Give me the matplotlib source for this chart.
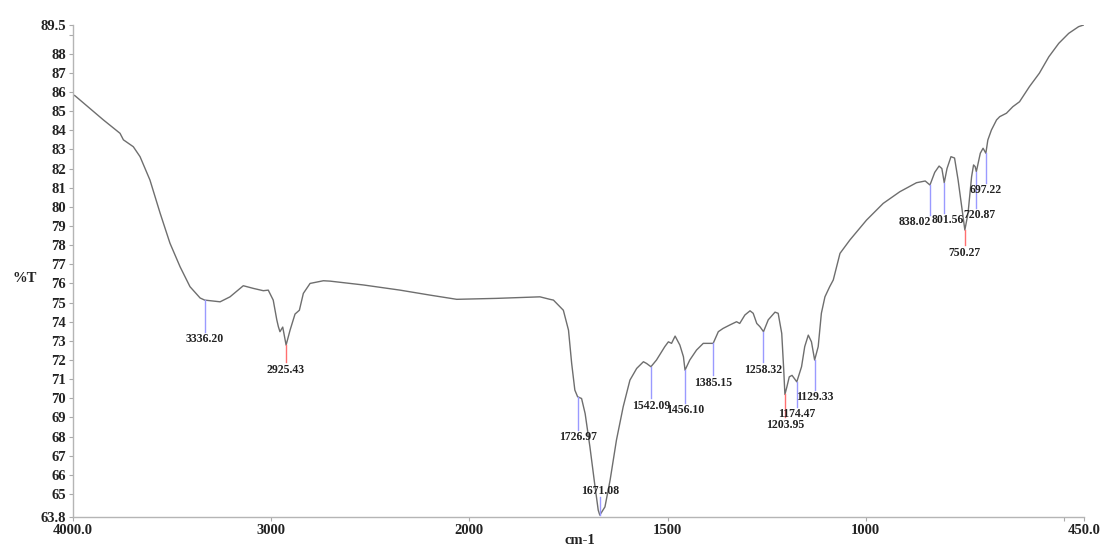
import numpy as np
import matplotlib
matplotlib.use("Agg")
import matplotlib.pyplot as plt

# ---- spectrum data (wavenumber cm-1, %T) ----
wavenumber = [4000, 3990, 3847, 3763, 3746, 3696, 3662, 3612, 3561, 3511, 3460, 3410, 3359,
              3336, 3258, 3208, 3141, 3090, 3040, 3015, 2990, 2972, 2964, 2956, 2942, 2925,
              2905, 2880, 2858, 2838, 2804, 2737, 2703, 2602, 2535, 2350, 2199, 2064, 1931,
              1822, 1797, 1788, 1763, 1750, 1742, 1734, 1727, 1717, 1708, 1696, 1683, 1675,
              1671, 1658, 1645, 1629, 1612, 1595, 1578, 1561, 1553, 1542, 1528, 1507, 1498,
              1490, 1481, 1469, 1460, 1456, 1444, 1427, 1410, 1385, 1372, 1360, 1343, 1326,
              1318, 1305, 1292, 1284, 1275, 1267, 1258, 1246, 1229, 1221, 1212, 1207, 1204,
              1199, 1193, 1186, 1174, 1162, 1154, 1145, 1137, 1129, 1120, 1112, 1103, 1091,
              1082, 1065, 1040, 998, 956, 914, 872, 850, 838, 826, 815, 808, 802, 795, 785,
              776, 767, 758, 750, 742, 733, 728, 724, 721, 711, 704, 697, 692, 683, 670, 662,
              645, 629, 612, 587, 562, 538, 513, 488, 463, 450]
transmittance = [85.85, 85.8, 84.54, 83.84, 83.5, 83.14, 82.62, 81.4, 79.68, 78.1, 76.87, 75.83, 75.24,
                 75.13, 75.04, 75.3, 75.88, 75.74, 75.62, 75.65, 75.13, 74.1, 73.74, 73.48, 73.72, 72.78,
                 73.56, 74.4, 74.6, 75.48, 76.0, 76.14, 76.12, 76.0, 75.92, 75.65, 75.39, 75.17, 75.22,
                 75.3, 75.17, 75.13, 74.6, 73.56, 71.82, 70.43, 70.08, 69.99, 69.2, 67.47, 65.38, 64.16,
                 63.9, 64.33, 65.73, 67.82, 69.56, 70.95, 71.56, 71.91, 71.82, 71.65, 72.0, 72.7, 72.95,
                 72.87, 73.25, 72.78, 72.17, 71.47, 72.0, 72.52, 72.87, 72.87, 73.48, 73.65, 73.83, 74.0,
                 73.91, 74.35, 74.57, 74.44, 73.91, 73.74, 73.48, 74.1, 74.5, 74.44, 73.39, 71.5, 70.2,
                 70.6, 71.12, 71.2, 70.86, 71.65, 72.7, 73.3, 72.95, 72.0, 72.7, 74.44, 75.3, 75.83,
                 76.18, 77.57, 78.27, 79.31, 80.18, 80.79, 81.26, 81.35, 81.14, 81.8, 82.13, 82.0, 81.26, 82.0, 82.62,
                 82.55, 81.4, 80.01, 78.79, 79.66, 81.57, 82.19, 82.1, 81.84, 82.8, 83.06, 82.8, 83.49, 84.01, 84.54, 84.71,
                 84.89, 85.23, 85.49, 86.28, 86.98, 87.84, 88.54, 89.06, 89.41, 89.5]

# ---- peak annotations ----
peak_labels = ["3336.20", "2925.43", "1726.97", "1671.08", "1542.09", "1456.10", "1385.15",
               "1258.32", "1203.95", "1174.47", "1129.33", "838.02", "801.56", "750.27",
               "720.87", "697.22"]
peak_wn = [3336.20, 2925.43, 1726.97, 1671.08, 1542.09, 1456.10, 1385.15,
           1258.32, 1203.95, 1174.47, 1129.33, 838.02, 801.56, 750.27, 720.87, 697.22]
peak_T = [75.13, 72.78, 70.08, 63.9, 71.65, 71.47, 72.87,
          73.48, 70.2, 70.86, 72.0, 81.14, 81.26, 78.79, 81.84, 82.8]
peak_end_T = [73.46, 71.89, 68.34, 64.84, 70.0, 69.75, 71.21,
              71.89, 69.0, 69.55, 70.43, 79.57, 79.68, 78.0, 79.94, 81.24]
peak_red = [False, True, False, False, False, False, False,
            False, True, False, False, False, False, True, False, False]
peak_align = ["center", "center", "center", "center", "center", "center", "center",
              "center", "center", "center", "center", "right", "center", "center",
              "center", "center"]
peak_dx_px = [0, 0, 0, 0, 0, 0, 0, 0, 0, 0, 0, 1, 3, 0, 3, 0]

y_ticks = [89.5, 88, 87, 86, 85, 84, 83, 82, 81, 80, 79, 78, 77, 76, 75, 74, 73, 72,
           71, 70, 69, 68, 67, 66, 65, 63.8]
y_tick_labels = ["89.5", "88", "87", "86", "85", "84", "83", "82", "81", "80", "79", "78",
                 "77", "76", "75", "74", "73", "72", "71", "70", "69", "68", "67", "66",
                 "65", "63.8"]
x_ticks = [4000, 3000, 2000, 1500, 1000, 450]
x_tick_labels = ["4000.0", "3000", "2000", "1500", "1000", "450.0"]


# piecewise scale: below 2000 cm-1 the axis is expanded 2x
def fwd(w):
    w = np.asarray(w, dtype=float)
    return np.where(w >= 2000, w, 2 * w - 2000)


def inv(u):
    u = np.asarray(u, dtype=float)
    return np.where(u >= 2000, u, (u + 2000) / 2)


serif = ["Liberation Serif", "DejaVu Serif"]

fig = plt.figure(figsize=(11.07, 5.47), dpi=100)
ax = fig.add_axes([0.066, 0.0548, 0.913, 0.8996])
ax.set_xscale("function", functions=(fwd, inv))
ax.plot(wavenumber, transmittance, color="#6e6e6e", lw=1.0)
ax.set_xlim(4000, 450)
ax.set_ylim(63.8, 89.5)

for lab, w, t, te, red, al, dxp in zip(peak_labels, peak_wn, peak_T, peak_end_T,
                                       peak_red, peak_align, peak_dx_px):
    col = "#ff6f6f" if red else "#9a9aff"
    ax.plot([w, w], [t, te], color=col, lw=1.0)
    dx = dxp * 0.72
    if te > t:
        ax.annotate(lab, (w, te), xytext=(dx, 0), textcoords="offset points",
                    ha=al, va="bottom", fontsize=8.5, fontweight="bold",
                    family=serif, color="#222222")
    else:
        ax.annotate(lab, (w, te), xytext=(dx, -1), textcoords="offset points",
                    ha=al, va="top", fontsize=8.5, fontweight="bold",
                    family=serif, color="#222222")

ax.set_yticks(y_ticks)
ax.set_yticklabels(y_tick_labels)
ax.set_yticks([89], minor=True)
ax.set_xticks(x_ticks)
ax.set_xticklabels(x_tick_labels)
ax.set_xticks([500], minor=True)

for lbl in ax.get_xticklabels() + ax.get_yticklabels():
    lbl.set_family(serif)
    lbl.set_fontweight("bold")
    lbl.set_fontsize(10.5)
    lbl.set_color("#222222")

ax.tick_params(axis="both", which="both", direction="out", length=3, width=0.8,
               color="#aaaaaa", pad=2)
for s in ["top", "right"]:
    ax.spines[s].set_visible(False)
for s in ["left", "bottom"]:
    ax.spines[s].set_color("#b5b5b5")
    ax.spines[s].set_linewidth(1.0)

fig.text(25 / 1107, 1 - 278 / 547, "%T", ha="center", va="center", fontsize=10.5,
         fontweight="bold", family=serif, color="#222222")
fig.text(580 / 1107, 1 - 541 / 547, "cm-1", ha="center", va="center", fontsize=10.5,
         fontweight="bold", family=serif, color="#222222")

fig.savefig("out.png", dpi=100, facecolor="white")
